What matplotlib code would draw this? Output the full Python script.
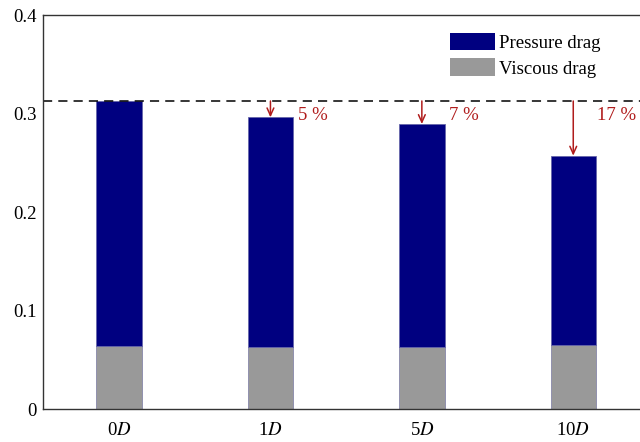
import matplotlib
matplotlib.use("Agg")
import matplotlib.pyplot as plt
from matplotlib.patches import Patch

categories = ["0$D$", "1$D$", "5$D$", "10$D$"]
viscous = [0.0645, 0.0635, 0.0632, 0.0652]
total = [0.3125, 0.2962, 0.2894, 0.2573]
pressure = [t - v for t, v in zip(total, viscous)]
reference = 0.3128
reductions = ["", "5 %", "7 %", "17 %"]

plt.rcParams["font.family"] = ["Liberation Serif", "DejaVu Serif"]
plt.rcParams["mathtext.fontset"] = "stix"
plt.rcParams["font.size"] = 13.5

fig = plt.figure(figsize=(6.4, 4.42), dpi=100)
ax = fig.add_axes([0.0677, 0.074, 1.014 - 0.0677, 0.892])

x = list(range(len(categories)))
navy = "#000080"
gray = "#999999"
red = "#b01c1c"
ax.bar(x, viscous, width=0.3, color=gray, edgecolor="#8888aa", linewidth=0.6)
ax.bar(x, pressure, width=0.3, bottom=viscous, color=navy, edgecolor="#6666aa", linewidth=0.6)

ax.axhline(reference, color="black", linestyle=(0, (6, 4)), linewidth=1.1)

for i, (t, lab) in enumerate(zip(total, reductions)):
    if not lab:
        continue
    ax.annotate("", xy=(i, t), xytext=(i, reference),
                arrowprops=dict(arrowstyle="->,head_length=0.4,head_width=0.18",
                                color=red, lw=1.1, shrinkA=0, shrinkB=0))
    dx = 0.16 if len(lab) > 3 else 0.18
    ax.text(i + dx, 0.2985, lab, color=red, ha="left", va="center")

ax.set_xlim(-0.5, 3.5)
ax.set_ylim(0, 0.4)
ax.set_yticks([0, 0.1, 0.2, 0.3, 0.4])
ax.set_yticklabels(["0", "0.1", "0.2", "0.3", "0.4"])
ax.set_xticks(x)
ax.set_xticklabels(categories)
ax.tick_params(axis="both", length=0)
ax.tick_params(axis="y", pad=5)
ax.tick_params(axis="x", pad=9)
for s in ax.spines.values():
    s.set_color("#333333")
    s.set_linewidth(1.0)

handles = [Patch(facecolor=navy, edgecolor="none", label="Pressure drag"),
           Patch(facecolor=gray, edgecolor="none", label="Viscous drag")]
ax.legend(handles=handles, loc="upper left", bbox_to_anchor=(0.672, 0.955),
          frameon=False, handlelength=2.4, handleheight=1.05, handletextpad=0.2,
          labelspacing=0.35, borderaxespad=0, borderpad=0)

fig.savefig("out.png", dpi=100)
